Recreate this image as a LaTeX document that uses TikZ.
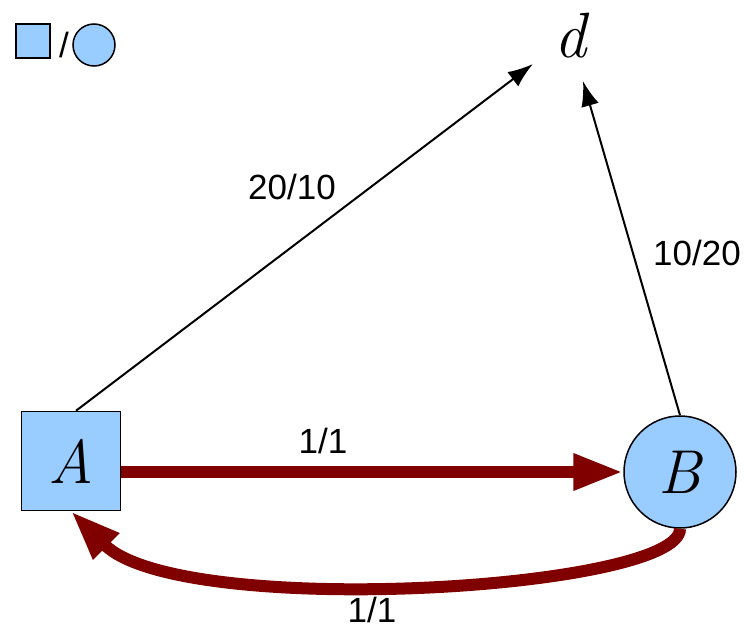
\documentclass[tikz,border=0pt]{standalone}
\usepackage{fontspec}
\setsansfont{Liberation Sans}
\usepackage{tikz}
\usetikzlibrary{arrows.meta, positioning, calc}
\definecolor{nodeblue}{RGB}{153, 204, 255}
\definecolor{flowred}{RGB}{128, 0, 0}

\begin{document}
\begin{tikzpicture}[x=1pt, y=-1pt,
  player/.style={draw=black, line width=1.5pt, fill=nodeblue, inner sep=0pt},
  costlbl/.style={font=\sffamily\fontsize{35}{40}\selectfont, inner sep=0pt},
  varlbl/.style={font=\itshape\fontsize{62}{70}\selectfont},
  costarrow/.style={black, line width=2pt, -{Latex[length=25pt, width=18pt]}},
  flowarrow/.style={flowred, line width=12pt, -{Triangle[length=50pt, width=34pt]}}]
  \useasboundingbox (0,0) rectangle (754,634);

  % legend
  \node[player, minimum size=34] (sq) at (33,41) {};
  \node[costlbl] (sl) at (64,45) {/};
  \node[player, circle, minimum size=42] (ci) at (94,45) {};

  % players and destination
  \node[player, minimum size=99, varlbl] (A) at (71,461) {A};
  \node[player, circle, minimum size=112, varlbl] (B) at (680,472) {B};
  \node[font=\itshape\fontsize{64}{70}\selectfont, minimum width=74, minimum height=90, inner sep=0pt] (d) at (570,36) {d};

  % direct routes to d
  \draw[costarrow] ([xshift=5]A.north) -- (d);
  \draw[costarrow] (B.north) -- (d);
  \node[costlbl] (c1) at (292,187) {20/10};
  \node[costlbl] (c2) at (697,253) {10/20};

  % routes between A and B
  \draw[flowarrow] (A.east |- B.west) -- (B.west);
  \draw[flowarrow] (B.south) .. controls (680,590) and (180,620) .. (A.south);
  \node[costlbl] (c3) at (323,441) {1/1};
  \node[costlbl] (c4) at (372,610) {1/1};
\end{tikzpicture}
\end{document}
